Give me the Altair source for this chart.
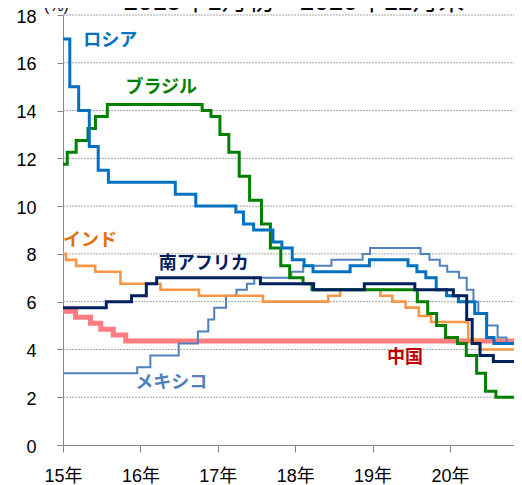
import altair as alt
import pandas as pd

# ---- data (policy rates, %) ----
ru_dates = ["2015-01-01","2015-02-02","2015-03-16","2015-05-05","2015-06-16","2015-08-03","2016-06-14","2016-09-19",
            "2017-03-27","2017-05-02","2017-06-19","2017-09-18","2017-10-30","2017-12-18","2018-02-12","2018-03-26",
            "2018-09-17","2018-12-17","2019-06-17","2019-07-29","2019-09-09","2019-10-28","2019-12-16","2020-02-10",
            "2020-04-27","2020-06-22","2020-07-27"]
ru_vals = [17,15,14,12.5,11.5,11,10.5,10,9.75,9.25,9,8.5,8.25,7.75,7.5,7.25,7.5,7.75,7.5,7.25,7,6.5,6.25,6,5.5,4.5,4.25]

br_dates = ["2015-01-01","2015-01-21","2015-03-04","2015-04-29","2015-06-03","2015-07-29","2016-10-19","2016-11-30",
            "2017-01-11","2017-02-22","2017-04-12","2017-05-31","2017-07-26","2017-09-06","2017-10-25","2017-12-06",
            "2018-02-07","2018-03-21","2019-07-31","2019-09-18","2019-10-30","2019-12-11","2020-02-05","2020-03-18",
            "2020-05-06","2020-06-17","2020-08-05"]
br_vals = [11.75,12.25,12.75,13.25,13.75,14.25,14.0,13.75,13.0,12.25,11.25,10.25,9.25,8.25,7.5,7.0,6.75,6.5,
           6.0,5.5,5.0,4.5,4.25,3.75,3.0,2.25,2.0]

in_dates = ["2015-01-01","2015-01-15","2015-03-04","2015-06-02","2015-09-29","2016-04-05","2016-10-04","2017-08-02",
            "2018-06-06","2018-08-01","2019-02-07","2019-04-04","2019-06-06","2019-08-07","2019-10-04","2020-03-27",
            "2020-05-22"]
in_vals = [8.0,7.75,7.5,7.25,6.75,6.5,6.25,6.0,6.25,6.5,6.25,6.0,5.75,5.4,5.15,4.4,4.0]

za_dates = ["2015-01-01","2015-07-24","2015-11-20","2016-01-29","2016-03-18","2017-07-21","2018-03-29","2018-11-23",
            "2019-07-19","2020-01-17","2020-03-20","2020-04-15","2020-05-22","2020-07-24"]
za_vals = [5.75,6.0,6.25,6.75,7.0,6.75,6.5,6.75,6.5,6.25,5.25,4.25,3.75,3.5]

mx_dates = ["2015-01-01","2015-12-17","2016-02-17","2016-06-30","2016-09-29","2016-11-17","2016-12-15","2017-02-09",
            "2017-03-30","2017-05-18","2017-06-22","2017-12-14","2018-02-08","2018-06-21","2018-11-15","2018-12-20",
            "2019-08-15","2019-09-26","2019-11-14","2019-12-19","2020-02-13","2020-03-20","2020-04-21","2020-05-14",
            "2020-06-25","2020-08-13","2020-09-24"]
mx_vals = [3.0,3.25,3.75,4.25,4.75,5.25,5.75,6.25,6.5,6.75,7.0,7.25,7.5,7.75,8.0,8.25,8.0,7.75,7.5,7.25,7.0,6.5,
           6.0,5.5,5.0,4.5,4.25]

cn_dates = ["2015-01-01","2015-03-01","2015-05-11","2015-06-28","2015-08-26","2015-10-24"]
cn_vals = [5.6,5.35,5.1,4.85,4.6,4.35]

end_date = "2020-12-31"

series_names = ["中国", "メキシコ", "インド", "ブラジル", "ロシア", "南アフリカ"]
series_data = {
    "ロシア": (ru_dates, ru_vals),
    "ブラジル": (br_dates, br_vals),
    "インド": (in_dates, in_vals),
    "南アフリカ": (za_dates, za_vals),
    "メキシコ": (mx_dates, mx_vals),
    "中国": (cn_dates, cn_vals),
}
line_colors = {"ロシア": "#0070C0", "ブラジル": "#008000", "インド": "#F79646",
               "南アフリカ": "#002060", "メキシコ": "#4F81BD", "中国": "#FF7C80"}
line_widths = {"ロシア": 3, "ブラジル": 3, "インド": 2.6, "南アフリカ": 3, "メキシコ": 2, "中国": 5}

# label anchor positions (in data units: year, %)
label_names = ["ロシア", "ブラジル", "インド", "南アフリカ", "メキシコ", "中国"]
label_t = [2015.61, 2016.27, 2015.35, 2016.82, 2016.40, 2019.42]
label_v = [16.9, 14.94, 8.54, 7.57, 2.59, 3.64]
label_colors = ["#0070C0", "#008000", "#E46C0A", "#002060", "#4F81BD", "#C00000"]

year_ticks = [2015, 2016, 2017, 2018, 2019, 2020]
grid_vals = list(range(2, 19, 2))
x_end = 2020.827


def frac_year(d):
    ts = pd.Timestamp(d)
    days = 366 if ts.is_leap_year else 365
    return ts.year + (ts.dayofyear - 1) / days


rows = []
for name, (ds, vs) in series_data.items():
    for d, v in zip(ds, vs):
        rows.append({"series": name, "t": frac_year(d), "v": v})
    rows.append({"series": name, "t": frac_year(end_date) + 1 / 365, "v": vs[-1]})
df = pd.DataFrame(rows)

FONT = "Liberation Sans, Noto Sans CJK JP"
GREY = "#868686"

xscale = alt.Scale(domain=[2015, x_end], nice=False, zero=False)
yscale = alt.Scale(domain=[0, 18], nice=False)

xaxis = alt.Axis(values=year_ticks, labelExpr="substring(toString(datum.value), 2, 4) + '年'",
                 grid=False, tickSize=7, tickColor=GREY, domainColor=GREY, labelFontSize=18,
                 labelFont=FONT, labelColor="black", labelPadding=15, labelFlush=False,
                 labelOverlap=False, title=None)
yaxis = alt.Axis(values=list(range(0, 19, 2)), grid=False,
                 tickSize=6, tickColor=GREY, domainColor=GREY, labelFontSize=18, labelFont=FONT,
                 labelColor="black", labelPadding=21, labelOffset=2, title="(%)", titleAngle=0,
                 titleX=-7, titleY=-5, titleFontSize=16, titleFont=FONT, titleFontWeight="normal",
                 titleAlign="center", titleBaseline="alphabetic", titleColor="black")

grid_df = pd.DataFrame({"g": grid_vals, "x0": [2015.0] * len(grid_vals), "x1": [2021.0] * len(grid_vals)})
grid = alt.Chart(grid_df).mark_rule(color="#A6A6A6", strokeWidth=1, strokeDash=[2, 1]).encode(
    x=alt.X("x0:Q", scale=xscale, axis=xaxis), x2="x1:Q",
    y=alt.Y("g:Q", scale=yscale, axis=yaxis))

layers = [grid]
for name in series_names:
    layers.append(
        alt.Chart(df).transform_filter(alt.datum.series == name).mark_line(
            interpolate="step-after", color=line_colors[name], strokeWidth=line_widths[name], clip=False
        ).encode(x=alt.X("t:Q", scale=xscale), y=alt.Y("v:Q", scale=yscale), order="t:Q")
    )

lab_df = pd.DataFrame({"name": label_names, "t": label_t, "v": label_v, "c": label_colors})
labels = alt.Chart(lab_df).mark_text(font="Noto Sans CJK JP", fontWeight="bold", fontSize=18,
                                     align="center", baseline="middle").encode(
    x=alt.X("t:Q", scale=xscale), y=alt.Y("v:Q", scale=yscale),
    text="name:N", color=alt.Color("c:N", scale=None))
layers.append(labels)

title_df = pd.DataFrame({"txt": ["2015年1月初～2020年12月末"]})
title = alt.Chart(title_df).mark_text(font=FONT, fontSize=26, align="center", baseline="alphabetic",
                                      color="black").encode(
    x=alt.value(231), y=alt.value(-5), text="txt:N")
layers.append(title)

chart = alt.layer(*layers).properties(
    width=451, height=430,
    autosize=alt.AutoSizeParams(type="none"),
    padding={"left": 55, "top": 7, "right": 0, "bottom": 40},
    background="white",
).configure_view(stroke=None)

chart.save("out.html", embed_options={"renderer": "svg", "actions": False})
